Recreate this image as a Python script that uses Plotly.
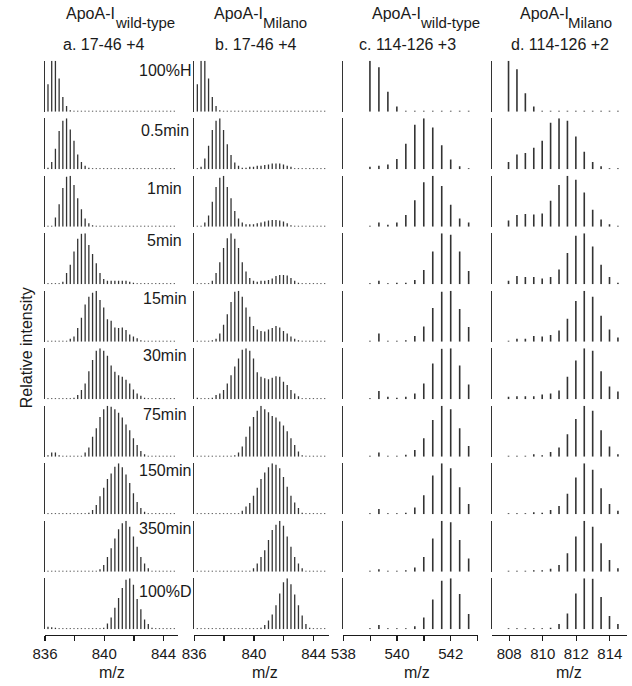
import plotly.graph_objects as go

W, H = 632, 686
FONT = "Arial, 'Liberation Sans', Helvetica, sans-serif"
INK = "#1a1a1a"
STICK = "#333333"

ROW_LABELS = ["100%H", "0.5min", "1min", "5min", "15min", "30min",
              "75min", "150min", "350min", "100%D"]
COL_PROTEIN = ["wild-type", "Milano", "wild-type", "Milano"]
COL_PEPTIDE = ["a. 17-46 +4", "b. 17-46 +4", "c. 114-126 +3", "d. 114-126 +2"]
MONO_MZ = [836.20, 836.21, 538.99, 807.96]
CHARGE = [4, 4, 3, 2]
X_RANGE = [[836, 845], [836, 845], [538, 543], [807, 815]]
TICK_VALS = [[836, 838, 840, 842, 844],
             [836, 838, 840, 842, 844],
             [538, 539, 540, 541, 542, 543],
             [808, 810, 812, 814]]
TICK_TEXT = [["836", "", "840", "", "844"],
             ["836", "", "840", "", "844"],
             ["538", "", "540", "", "542", ""],
             ["808", "810", "812", "814"]]

# relative intensities of each isotopic peak (mono first), one list per time point
WT_17_46 = [
    [0.54,1.00,1.00,0.65,0.29,0.11,0.03, 0.02,0.02,0.02,0.02,0.02,0.02,0.02, 0.02,0.02,0.02,0.02,0.02,0.02,0.02, 0.02,0.02,0.02,0.02,0.02,0.02,0.02, 0.02,0.02,0.02,0.02,0.02,0.02,0.02],
    [0.03,0.14,0.40,0.75,0.95,1.00,0.78, 0.56,0.29,0.14,0.07,0.03,0.02,0.02, 0.02,0.02,0.02,0.02,0.02,0.02,0.02, 0.02,0.02,0.02,0.02,0.02,0.02,0.02, 0.02,0.02,0.02,0.02,0.02,0.02,0.02],
    [0.02,0.02,0.18,0.44,0.76,0.98,1.00, 0.82,0.56,0.34,0.16,0.07,0.03,0.02, 0.02,0.02,0.02,0.02,0.02,0.02,0.02, 0.02,0.02,0.02,0.02,0.02,0.02,0.02, 0.02,0.02,0.02,0.02,0.02,0.02,0.02],
    [0.02,0.02,0.02,0.02,0.05,0.22,0.38, 0.64,0.89,0.99,1.00,0.77,0.59,0.41, 0.22,0.10,0.07,0.07,0.07,0.07,0.07, 0.07,0.05,0.03,0.02,0.02,0.02,0.02, 0.02,0.02,0.02,0.02,0.02,0.02,0.02],
    [0.02,0.02,0.02,0.02,0.02,0.02,0.06, 0.10,0.27,0.47,0.73,0.88,0.96,1.00, 0.82,0.67,0.44,0.41,0.28,0.27,0.28, 0.23,0.14,0.10,0.07,0.03,0.02,0.02, 0.02,0.02,0.02,0.02,0.02,0.02,0.02],
    [0.02,0.02,0.02,0.02,0.02,0.02,0.02, 0.03,0.08,0.18,0.31,0.55,0.77,0.95, 1.00,0.95,0.85,0.66,0.54,0.47,0.44, 0.38,0.31,0.19,0.11,0.07,0.03,0.02, 0.02,0.02,0.02,0.02,0.02,0.02,0.02],
    [0.03,0.08,0.08,0.03,0.02,0.02,0.02, 0.02,0.02,0.02,0.08,0.18,0.39,0.56, 0.78,0.93,1.00,0.98,0.93,0.86,0.77, 0.63,0.52,0.36,0.23,0.11,0.05,0.02, 0.02,0.02,0.02,0.02,0.02,0.02,0.02],
    [0.02,0.02,0.02,0.02,0.02,0.02,0.02, 0.02,0.02,0.02,0.02,0.03,0.08,0.18, 0.35,0.52,0.69,0.80,0.93,1.00,0.92, 0.78,0.61,0.41,0.24,0.12,0.05,0.02, 0.02,0.02,0.02,0.02,0.02,0.02,0.02],
    [0.02,0.02,0.02,0.02,0.02,0.02,0.02, 0.02,0.02,0.02,0.02,0.02,0.02,0.02, 0.05,0.13,0.29,0.46,0.65,0.83,0.95, 1.00,0.88,0.69,0.49,0.29,0.16,0.07, 0.02,0.02,0.02,0.02,0.02,0.02,0.02],
    [0.05,0.04,0.03,0.02,0.02,0.02,0.02, 0.02,0.02,0.02,0.02,0.02,0.02,0.02, 0.02,0.03,0.11,0.23,0.42,0.61,0.81, 0.97,1.00,0.87,0.59,0.39,0.19,0.10, 0.03,0.02,0.02,0.02,0.02,0.02,0.02],
]

MILANO_17_46 = [
    [0.54,1.00,1.00,0.65,0.29,0.11,0.03, 0.02,0.02,0.02,0.02,0.02,0.02,0.02, 0.02,0.02,0.02,0.02,0.02,0.02,0.02, 0.02,0.02,0.02,0.02,0.02,0.02,0.02, 0.02,0.02,0.02,0.02,0.02,0.02,0.02],
    [0.02,0.05,0.21,0.46,0.77,0.95,1.00, 0.77,0.49,0.28,0.13,0.07,0.03,0.03, 0.05,0.05,0.07,0.07,0.08,0.09,0.11, 0.11,0.11,0.09,0.07,0.05,0.02,0.02, 0.02,0.02,0.02,0.02,0.02,0.02,0.02],
    [0.02,0.02,0.08,0.22,0.49,0.78,0.96, 1.00,0.78,0.56,0.31,0.16,0.08,0.05, 0.05,0.05,0.07,0.08,0.10,0.12,0.13, 0.13,0.12,0.10,0.07,0.03,0.02,0.02, 0.02,0.02,0.02,0.02,0.02,0.02,0.02],
    [0.02,0.02,0.02,0.02,0.07,0.22,0.43, 0.71,0.90,1.00,0.89,0.71,0.43,0.25, 0.12,0.07,0.05,0.07,0.07,0.08,0.11, 0.16,0.18,0.18,0.17,0.12,0.07,0.03, 0.02,0.02,0.02,0.02,0.02,0.02,0.02],
    [0.02,0.02,0.02,0.02,0.03,0.06,0.16, 0.33,0.54,0.78,0.98,1.00,0.88,0.67, 0.49,0.31,0.24,0.21,0.20,0.24,0.27, 0.31,0.28,0.21,0.16,0.10,0.06,0.03, 0.02,0.02,0.02,0.02,0.02,0.02,0.02],
    [0.03,0.02,0.02,0.02,0.03,0.08,0.11, 0.18,0.31,0.47,0.64,0.80,0.97,1.00, 0.95,0.80,0.53,0.44,0.41,0.39,0.42, 0.45,0.44,0.34,0.28,0.18,0.11,0.06, 0.02,0.02,0.02,0.02,0.02,0.02,0.02],
    [0.02,0.02,0.02,0.02,0.02,0.02,0.02, 0.02,0.02,0.02,0.03,0.08,0.20,0.39, 0.59,0.78,0.90,1.00,0.93,0.87,0.80, 0.77,0.69,0.61,0.50,0.36,0.23,0.10, 0.03,0.02,0.02,0.02,0.02,0.02,0.02],
    [0.02,0.02,0.02,0.02,0.02,0.02,0.02, 0.02,0.02,0.02,0.02,0.02,0.07,0.15, 0.22,0.36,0.52,0.69,0.82,0.92,1.00, 0.97,0.90,0.73,0.54,0.36,0.23,0.12, 0.03,0.02,0.02,0.02,0.02,0.02,0.02],
    [0.02,0.02,0.02,0.02,0.02,0.02,0.02, 0.02,0.02,0.02,0.02,0.02,0.02,0.02, 0.02,0.07,0.16,0.29,0.42,0.62,0.82, 0.92,1.00,0.90,0.69,0.49,0.29,0.16, 0.07,0.02,0.02,0.02,0.02,0.02,0.02],
    [0.02,0.02,0.02,0.02,0.02,0.02,0.02, 0.02,0.02,0.02,0.02,0.02,0.02,0.02, 0.02,0.02,0.02,0.03,0.08,0.17,0.29, 0.47,0.70,0.92,1.00,0.88,0.68,0.47, 0.27,0.10,0.03,0.02,0.02,0.02,0.02],
]

WT_114_126 = [
    [1.00,0.87,0.39,0.10,0.02,0.02,0.02,0.02,0.02,0.02,0.02,0.02],
    [0.05,0.07,0.09,0.20,0.50,0.87,1.00,0.82,0.47,0.19,0.06,0.02],
    [0.02,0.08,0.04,0.08,0.23,0.52,0.87,1.00,0.80,0.43,0.16,0.08],
    [0.02,0.07,0.02,0.03,0.03,0.08,0.28,0.64,1.00,0.97,0.64,0.26],
    [0.02,0.16,0.02,0.02,0.03,0.11,0.30,0.66,0.98,1.00,0.64,0.29],
    [0.02,0.16,0.05,0.03,0.05,0.11,0.31,0.70,0.99,1.00,0.66,0.29],
    [0.02,0.08,0.02,0.02,0.04,0.13,0.36,0.72,1.00,0.93,0.56,0.21],
    [0.02,0.10,0.02,0.02,0.03,0.13,0.37,0.76,1.00,0.90,0.53,0.20],
    [0.02,0.05,0.02,0.02,0.03,0.08,0.29,0.65,1.00,0.97,0.62,0.26],
    [0.02,0.08,0.02,0.02,0.02,0.06,0.23,0.58,0.95,1.00,0.69,0.30],
]

MILANO_114_126 = [
    [1.00,0.83,0.36,0.10,0.02,0.02,0.02,0.02,0.02,0.02,0.02,0.02,0.02,0.02],
    [0.14,0.29,0.32,0.42,0.56,0.91,1.00,0.95,0.64,0.34,0.14,0.06,0.02,0.02],
    [0.12,0.23,0.25,0.24,0.26,0.51,0.82,1.00,0.92,0.67,0.33,0.14,0.05,0.02],
    [0.07,0.16,0.14,0.14,0.11,0.14,0.29,0.61,0.95,1.00,0.74,0.38,0.14,0.03],
    [0.02,0.06,0.06,0.11,0.10,0.13,0.22,0.45,0.80,1.00,0.88,0.51,0.24,0.08],
    [0.05,0.06,0.06,0.06,0.09,0.11,0.17,0.44,0.76,1.00,0.95,0.55,0.25,0.15],
    [0.02,0.02,0.02,0.05,0.03,0.09,0.18,0.44,0.74,1.00,0.90,0.52,0.20,0.05],
    [0.02,0.02,0.02,0.04,0.03,0.08,0.16,0.40,0.72,1.00,0.87,0.51,0.20,0.07],
    [0.02,0.02,0.02,0.03,0.03,0.06,0.13,0.36,0.69,1.00,0.88,0.56,0.23,0.07],
    [0.02,0.02,0.02,0.02,0.02,0.03,0.10,0.31,0.70,1.00,0.99,0.63,0.26,0.10],
]

SPECTRA = [WT_17_46, MILANO_17_46, WT_114_126, MILANO_114_126]

# ---------------- layout geometry (pixels) ----------------
COL_PX = [(32.7, 168.8), (185.0, 322.2), (337.3, 474.3), (489.5, 626.5)]
ROW_TOP0, ROW_PITCH, ROW_H = 60.7, 57.5, 51.0
XAXIS_Y = 635.0
STICK_W = [1.3, 1.3, 1.6, 1.6]

def px_x(px):
    return px / W

def px_y(py):
    return 1 - py / H

fig = go.Figure()
layout = {}
NROW, NCOL = 10, 4
for r in range(NROW):
    top = ROW_TOP0 + ROW_PITCH * r
    base = top + ROW_H
    for c in range(NCOL):
        n = r * NCOL + c + 1
        sx = "" if n == 1 else str(n)
        xs, ys = [], []
        step = 1.00335 / CHARGE[c]
        for k, v in enumerate(SPECTRA[c][r]):
            mz = MONO_MZ[c] + k * step
            xs += [mz, mz, None]
            ys += [0, v, None]
        fig.add_trace(go.Scatter(
            x=xs, y=ys, mode="lines", xaxis="x" + sx, yaxis="y" + sx,
            line=dict(color=STICK, width=STICK_W[c]),
            hoverinfo="skip", showlegend=False))
        xd = [px_x(COL_PX[c][0]), px_x(COL_PX[c][1])]
        yd = [px_y(base), px_y(top)]
        xa = dict(domain=xd, range=X_RANGE[c], showgrid=False, zeroline=False,
                  fixedrange=True)
        if r == NROW - 1:
            xa.update(anchor="free", position=px_y(XAXIS_Y), showline=True,
                      linecolor=INK, linewidth=1.3, ticks="outside", ticklen=5,
                      tickwidth=1.3, tickcolor=INK, tickmode="array",
                      tickvals=TICK_VALS[c], ticktext=TICK_TEXT[c],
                      tickfont=dict(family=FONT, size=15, color=INK))
        else:
            xa.update(anchor="y" + sx, visible=False)
        ya = dict(domain=yd, range=[0, 1], anchor="x" + sx, showgrid=False,
                  zeroline=False, showline=True, linecolor=STICK, linewidth=1.3,
                  ticks="", showticklabels=False, fixedrange=True)
        layout["xaxis" + sx] = xa
        layout["yaxis" + sx] = ya

ann = []
def text(x, y, s, size=16, xanchor="left", angle=0):
    ann.append(dict(x=px_x(x), y=px_y(y), xref="paper", yref="paper", text=s,
                    showarrow=False, xanchor=xanchor, yanchor="middle",
                    textangle=angle,
                    font=dict(family=FONT, size=size, color=INK)))

# column headers
HEAD_X = [52.0, 203.3, 364.3, 515.7]
SUB_X = [101.7, 252.7, 413.3, 565.0]
PEP_X = [49.3, 204.0, 351.7, 506.7]
for c in range(NCOL):
    text(HEAD_X[c], 13.5, "ApoA-I")
    text(SUB_X[c], 22.5, COL_PROTEIN[c], size=15)
    text(PEP_X[c], 45.0, COL_PEPTIDE[c])

# time-point labels
LABEL_OFF = [10.3, 12.4, 12.6, 7.6, 7.8, 7.6, 8.5, 7.6, 7.5, 12.9]
for r in range(NROW):
    text(155, ROW_TOP0 + ROW_PITCH * r + LABEL_OFF[r], ROW_LABELS[r], xanchor="center")

# axis titles
for xc in [101.5, 257.5, 412.5, 568.0]:
    text(xc, 672.5, "m/z", xanchor="center")
text(13.5, 348, "Relative intensity", xanchor="center", angle=-90)

fig.update_layout(width=W, height=H, margin=dict(l=0, r=0, t=0, b=0),
                  paper_bgcolor="white", plot_bgcolor="white",
                  hovermode=False, annotations=ann, **layout)
fig.write_html("out.html",
               config={"displayModeBar": False, "staticPlot": True},
               post_script="document.body.style.margin='0px';"
                           "document.body.style.overflow='hidden';")
